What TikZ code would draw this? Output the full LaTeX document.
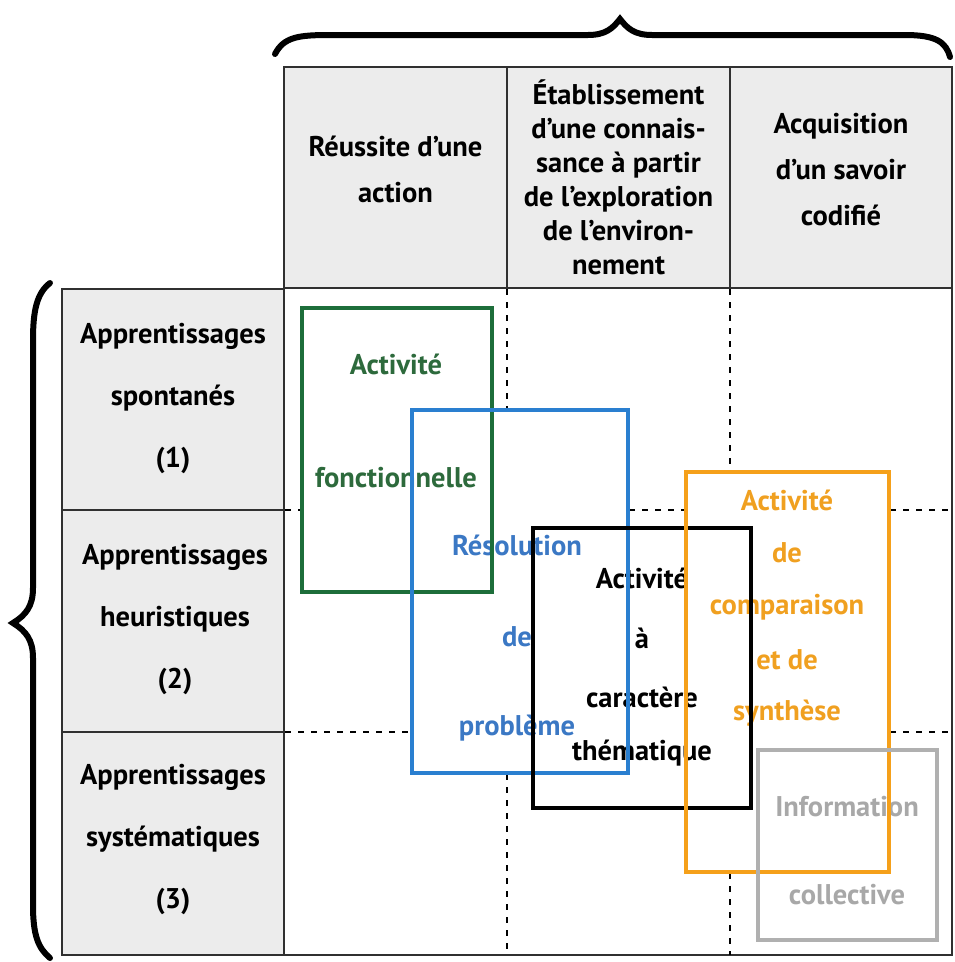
\documentclass[tikz,border=0pt]{standalone}
\usepackage{fontspec}
\setmainfont{PT Sans}
\begin{document}
\begin{tikzpicture}[x=1pt,y=-1pt,
  cellfill/.style={fill=headgray,draw=gridline,line width=1.6pt},
  gridrule/.style={draw=gridline,line width=1.6pt},
  dashrule/.style={draw=black,line width=2.8pt,dash pattern=on 6pt off 7pt},
  brace/.style={draw=black,line width=6pt,line cap=round},
  txt/.style={font=\bfseries\fontsize{28.5}{34}\selectfont,align=center,inner sep=0pt},
  wide/.style={txt,font=\bfseries\fontsize{28.5}{46}\selectfont},
  side/.style={txt,font=\bfseries\fontsize{28.5}{62}\selectfont},
  frame/.style={line width=3.6pt},
]
\definecolor{headgray}{HTML}{ECECEC}
\definecolor{gridline}{HTML}{303030}
\definecolor{vert}{HTML}{1D6E3A}
\definecolor{verttxt}{HTML}{2D6A3C}
\definecolor{bleu}{HTML}{2A7FD0}
\definecolor{bleutxt}{HTML}{3B78C4}
\definecolor{orange}{HTML}{F5A01A}
\definecolor{orangetxt}{HTML}{F0A020}
\definecolor{gris}{HTML}{B0B0B0}
\definecolor{gristxt}{HTML}{A8A8A8}

\useasboundingbox (0,0) rectangle (954,962);

% column headings
\draw[cellfill] (284,67) rectangle (507,288);
\draw[cellfill] (507,67) rectangle (730,288);
\draw[cellfill] (730,67) rectangle (952,288);
\node[wide] (ha) at (395.5,169) {Réussite d’une\\action};
\node[txt] (hb) at (618.5,177) {Établissement\\d’une connais-\\sance à partir\\de l’exploration\\de l’environ-\\nement};
\node[wide] (hc) at (841,170) {Acquisition\\d’un savoir\\codifié};

% row headings
\draw[cellfill] (62,289) rectangle (284,510);
\draw[cellfill] (62,510) rectangle (284,732);
\draw[cellfill] (62,732) rectangle (284,955);
\node[side] (ra) at (173,398) {Apprentissages\\spontanés\\(1)};
\node[side] (rb) at (175,619) {Apprentissages\\heuristiques\\(2)};
\node[side] (rc) at (173,839) {Apprentissages\\systématiques\\(3)};

% outer frame of the grid
\draw[gridrule] (284,288) -- (952,288) -- (952,955) -- (284,955);

% dashed separators, interrupted by the activity frames
\draw[dashrule] (507,289) -- (507,409);
\draw[dashrule] (507,774) -- (507,955);
\draw[dashrule] (730,289) -- (730,471);
\draw[dashrule] (730,873) -- (730,955);
\draw[dashrule] (285,510) -- (301,510);
\draw[dashrule] (629,510) -- (685,510);
\draw[dashrule] (890,510) -- (952,510);
\draw[dashrule] (285,732) -- (411,732);
\draw[dashrule] (890,732) -- (952,732);

% braces
\draw[brace] (275,54) .. controls (284,37) and (298,35) .. (330,35) -- (588,35)
  .. controls (606,35) and (613,28) .. (620,19)
  .. controls (627,28) and (634,35) .. (652,35) -- (905,35)
  .. controls (936,35) and (946,42) .. (950,57);
\draw[brace] (50,283) .. controls (37,293) and (33,310) .. (33,340) -- (33,588)
  .. controls (33,606) and (26,615) .. (13,623)
  .. controls (26,631) and (33,640) .. (33,658) -- (33,905)
  .. controls (33,935) and (38,948) .. (50,958);

% activity labels
\node[txt,text=verttxt] (fa) at (396,364) {Activité};
\node[txt,text=verttxt] (fb) at (396,478) {fonctionnelle};
\node[txt,text=bleutxt] (pa) at (517,545) {Résolution};
\node[txt,text=bleutxt] (pb) at (517,637) {de};
\node[txt,text=bleutxt] (pc) at (517,728) {problème};
\node[txt] (ta) at (642,578) {Activité};
\node[txt] (tb) at (642,638) {à};
\node[txt] (tc) at (642,697) {caractère};
\node[txt] (td) at (642,753) {thématique};
\node[txt,text=orangetxt] (ca) at (787,500) {Activité};
\node[txt,text=orangetxt] (cb) at (787,553) {de};
\node[txt,text=orangetxt] (cc) at (787,607) {comparaison};
\node[txt,text=orangetxt] (cd) at (787,660) {et de};
\node[txt,text=orangetxt] (ce) at (787,713) {synthèse};
\node[txt,text=gristxt] (ia) at (847,807) {Information};
\node[txt,text=gristxt] (ib) at (847,895) {collective};

% activity frames
\draw[frame,draw=vert] (302,308) rectangle (492,592);
\draw[frame,draw=bleu] (412,410) rectangle (628,773);
\draw[frame,draw=black] (533,528) rectangle (751,808);
\draw[frame,draw=orange] (686,472) rectangle (889,872);
\draw[frame,draw=gris] (758,750) rectangle (937,940);
\end{tikzpicture}
\end{document}
